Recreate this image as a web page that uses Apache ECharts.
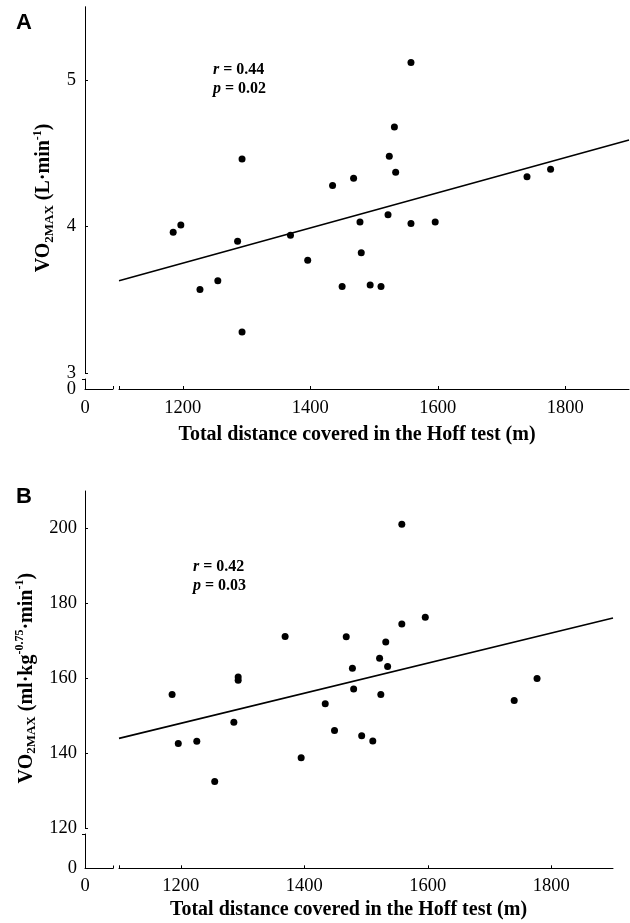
<!DOCTYPE html>
<html>
<head>
<meta charset="utf-8">
<script src="https://cdn.jsdelivr.net/npm/echarts@6/dist/echarts.min.js"></script>
<style>
html,body{margin:0;padding:0;background:#fff;}
#chart{width:630px;height:923px;}
</style>
</head>
<body>
<div id="chart"></div>
<script>
// ---- Data ----
const distanceA = [1185,1197,1227,1255,1286,1293,1293,1369,1396,1435,1450,1468,1478,1480,1494,1511,1522,1524,1532,1534,1558,1558,1596,1740,1777];
const vo2Abs    = [3.96,4.01,3.57,3.63,3.90,4.46,3.28,3.94,3.77,4.28,3.59,4.33,4.03,3.82,3.60,3.59,4.08,4.48,4.68,4.37,5.12,4.02,4.03,4.34,4.39];
const fitA      = [[1100,3.63],[1900,4.59]];

const distanceB = [1186,1196,1226,1255,1286,1293,1293,1369,1395,1434,1449,1468,1478,1480,1493,1511,1522,1524,1532,1535,1558,1558,1596,1740,1777];
const vo2Scaled = [155.7,142.6,143.2,132.5,148.3,160.4,159.5,171.2,138.8,153.2,146.1,171.1,162.7,157.2,144.7,143.3,165.4,155.7,169.7,163.2,201.1,174.5,176.3,154.1,160.0];
const fitB      = [[1100,144.0],[1900,176.1]];

const xTicks    = [1200,1400,1600,1800];
const yTicksA   = [3,4,5];
const yTicksB   = [120,140,160,180,200];
const statsA    = ['0.44','0.02'];
const statsB    = ['0.42','0.03'];

// ---- Styling ----
const serif = "'Liberation Serif','Times New Roman','DejaVu Serif',serif";
const axisLine = {show:true, lineStyle:{color:'#000', width:1}};
const lbl = {color:'#000', fontFamily:serif, fontSize:18.5, formatter:(v)=>String(v)};
const nameStyleX = {color:'#000', fontFamily:serif, fontSize:20, fontWeight:'bold'};

function pts(xs, ys){ return xs.map((x,i)=>[x, ys[i]]); }

function ytitleRich(){
  return {
    b:{fontFamily:serif, fontSize:20, fontWeight:'bold', color:'#000', verticalAlign:'middle'},
    s:{fontFamily:serif, fontSize:13, fontWeight:'bold', color:'#000', verticalAlign:'bottom', padding:[0,0,-2,0]},
    p:{fontFamily:serif, fontSize:12, fontWeight:'bold', color:'#000', verticalAlign:'top', padding:[-2,0,0,0]}
  };
}

const statRich = {
  i:{fontFamily:serif, fontSize:16, fontWeight:'bold', fontStyle:'italic', color:'#000'},
  b:{fontFamily:serif, fontSize:16, fontWeight:'bold', color:'#000'}
};

const chart = echarts.init(document.getElementById('chart'), null, {renderer:'canvas'});
const option = {
  animation:false,
  backgroundColor:'#fff',
  title:[
    {text:'A', left:16, top:12, padding:0, textStyle:{fontFamily:"'Liberation Sans',Arial,sans-serif", fontSize:22, fontWeight:'bold', color:'#000'}},
    {text:'B', left:16, top:486, padding:0, textStyle:{fontFamily:"'Liberation Sans',Arial,sans-serif", fontSize:22, fontWeight:'bold', color:'#000'}},
    {text:'{i|r}{b| = '+statsA[0]+'}\n{i|p}{b| = '+statsA[1]+'}', left:213, top:60, padding:0, textStyle:{lineHeight:19, rich:statRich}},
    {text:'{i|r}{b| = '+statsB[0]+'}\n{i|p}{b| = '+statsB[1]+'}', left:193, top:557, padding:0, textStyle:{lineHeight:19, rich:statRich}}
  ],
  grid:[
    {left:119, top:6.75, width:510, height:366.25},
    {left:85, top:379, width:28, height:10},
    {left:119, top:491, width:494, height:337.3},
    {left:85, top:834, width:28, height:34.5}
  ],
  xAxis:[
    {gridIndex:0, type:'value', min:1100, max:1900, position:'bottom', offset:16,
     axisLine:axisLine, splitLine:{show:false},
     axisTick:{show:true, inside:true, length:3, lineStyle:{color:'#000'}, customValues:[1100].concat(xTicks)},
     axisLabel:{...lbl, margin:10, customValues:xTicks},
     name:'Total distance covered in the Hoff test (m)', nameLocation:'middle', nameGap:36,
     nameTextStyle:{...nameStyleX, padding:[0,34,0,0]}},
    {gridIndex:1, type:'value', min:0, max:1, position:'bottom',
     axisLine:axisLine, splitLine:{show:false},
     axisTick:{show:true, inside:true, length:3, lineStyle:{color:'#000'}, customValues:[1]},
     axisLabel:{...lbl, margin:10, customValues:[0], formatter:()=> '0'}},
    {gridIndex:2, type:'value', min:1100, max:1900, position:'bottom', offset:40,
     axisLine:axisLine, splitLine:{show:false},
     axisTick:{show:true, inside:true, length:3, lineStyle:{color:'#000'}, customValues:[1100].concat(xTicks)},
     axisLabel:{...lbl, margin:8, customValues:xTicks},
     name:'Total distance covered in the Hoff test (m)', nameLocation:'middle', nameGap:32,
     nameTextStyle:{...nameStyleX, padding:[0,35,0,0]}},
    {gridIndex:3, type:'value', min:0, max:1, position:'bottom',
     axisLine:axisLine, splitLine:{show:false},
     axisTick:{show:true, inside:true, length:3, lineStyle:{color:'#000'}, customValues:[1]},
     axisLabel:{...lbl, margin:8, customValues:[0], formatter:()=> '0'}}
  ],
  yAxis:[
    {gridIndex:0, type:'value', min:3, max:5.5, position:'left', offset:34,
     axisLine:axisLine, splitLine:{show:false},
     axisTick:{show:true, inside:true, length:3, lineStyle:{color:'#000'}, customValues:yTicksA},
     axisLabel:{...lbl, margin:9, customValues:yTicksA},
     name:'{b|VO}{s|2MAX}{b| (L·min}{p|-1}{b|)}', nameLocation:'middle', nameRotate:90, nameGap:30,
     nameTextStyle:{rich:ytitleRich(), padding:[0,16,0,0]}},
    {gridIndex:1, type:'value', min:0, max:1, position:'left',
     axisLine:axisLine, splitLine:{show:false},
     axisTick:{show:true, inside:false, length:3, lineStyle:{color:'#000'}, customValues:[1]},
     axisLabel:{...lbl, margin:9, customValues:[0], formatter:()=> '0'}},
    {gridIndex:2, type:'value', min:120, max:210, position:'left', offset:34,
     axisLine:axisLine, splitLine:{show:false},
     axisTick:{show:true, inside:true, length:3, lineStyle:{color:'#000'}, customValues:yTicksB},
     axisLabel:{...lbl, margin:8, customValues:yTicksB},
     name:'{b|VO}{s|2MAX}{b| (ml·kg}{p|-0.75}{b|·min}{p|-1}{b|)}', nameLocation:'middle', nameRotate:90, nameGap:44,
     nameTextStyle:{rich:ytitleRich(), padding:[0,37,0,0]}},
    {gridIndex:3, type:'value', min:0, max:1, position:'left',
     axisLine:axisLine, splitLine:{show:false},
     axisTick:{show:true, inside:false, length:3, lineStyle:{color:'#000'}, customValues:[1]},
     axisLabel:{...lbl, margin:8, customValues:[0], formatter:()=> '0'}}
  ],
  series:[
    {type:'scatter', xAxisIndex:0, yAxisIndex:0, data:pts(distanceA, vo2Abs), symbol:'circle', symbolSize:7, itemStyle:{color:'#000', opacity:1}},
    {type:'line', xAxisIndex:0, yAxisIndex:0, data:fitA, symbol:'none', lineStyle:{color:'#000', width:1.6}},
    {type:'scatter', xAxisIndex:2, yAxisIndex:2, data:pts(distanceB, vo2Scaled), symbol:'circle', symbolSize:7, itemStyle:{color:'#000', opacity:1}},
    {type:'line', xAxisIndex:2, yAxisIndex:2, data:fitB, symbol:'none', lineStyle:{color:'#000', width:1.6}}
  ]
};
chart.setOption(option);
</script>
</body>
</html>
